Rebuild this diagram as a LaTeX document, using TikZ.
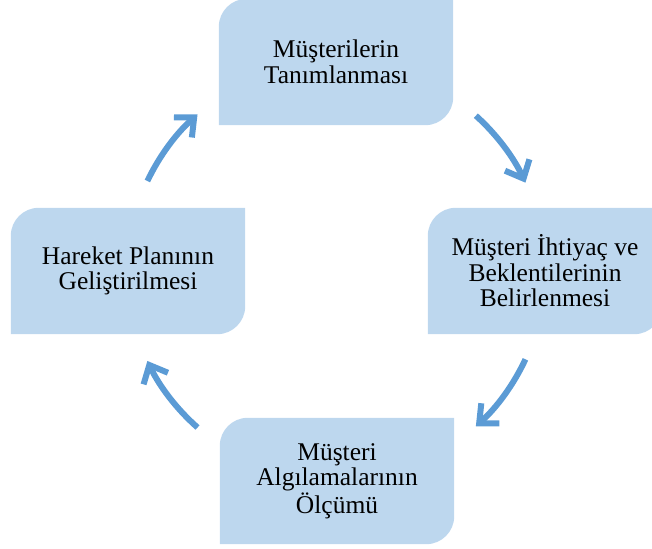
\documentclass[tikz,border=0pt]{standalone}
\usepackage{fontspec}
\setmainfont{Liberation Serif}
\usetikzlibrary{arrows.meta,backgrounds,calc}
\definecolor{boxfill}{HTML}{BDD7EE}
\definecolor{cyclearrow}{HTML}{5B9BD5}
\tikzset{
  stagebox/.style={minimum width=234pt, minimum height=126pt, inner sep=0pt,
    align=center, text=black,
    font=\fontsize{25.5pt}{25.5pt}\selectfont},
  cyclearc/.style={draw=cyclearrow, line width=6pt,
    -{Straight Barb[length=15pt,width=27pt]}},
}
\begin{document}
\begin{tikzpicture}[x=1pt,y=1pt]
  \useasboundingbox (0,0) rectangle (652,548);

  % four stages of the cycle
  \node[stagebox] (top)    at (336,486) {Müşterilerin\\Tanımlanması};
  \node[stagebox] (right)  at (545,277) {Müşteri İhtiyaç ve\\Beklentilerinin\\Belirlenmesi};
  \node[stagebox] (bottom) at (337,67)  {Müşteri\\Algılamalarının\\Ölçümü};
  \node[stagebox] (left)   at (128,277) {Hareket Planının\\Geliştirilmesi};

  % boxes with rounded top-left and bottom-right corners
  \begin{scope}[on background layer]
    \foreach \n in {top,right,bottom,left}{
      \fill[boxfill] (\n.south west) -- ([yshift=-28pt]\n.north west)
        arc[start angle=180, end angle=90, radius=28pt]
        -- (\n.north east) -- ([yshift=28pt]\n.south east)
        arc[start angle=0, end angle=-90, radius=28pt] -- cycle;
    }
  \end{scope}

  % curved arrows around the cycle centre
  \coordinate (c) at (336,277);
  \coordinate (a1) at ($(c)+(48:209)$);
  \coordinate (a2) at ($(c)+(-25:209)$);
  \coordinate (a3) at ($(c)+(228.5:209)$);
  \coordinate (a4) at ($(c)+(154.5:209)$);
  \draw[cyclearc] (a1) arc[start angle=48,    end angle=25,    radius=209];
  \draw[cyclearc] (a2) arc[start angle=-25,   end angle=-48,   radius=209];
  \draw[cyclearc] (a3) arc[start angle=228.5, end angle=205.5, radius=209];
  \draw[cyclearc] (a4) arc[start angle=154.5, end angle=131.5, radius=209];
\end{tikzpicture}
\end{document}
